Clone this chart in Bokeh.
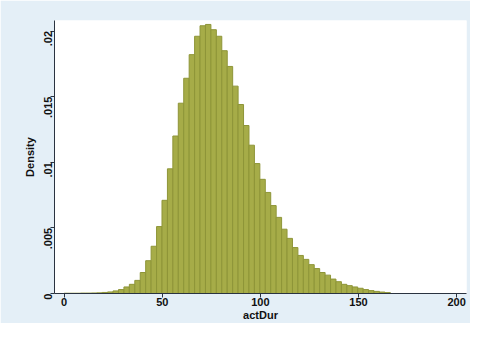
from bokeh.plotting import figure
from bokeh.models import FixedTicker, CustomJSTickFormatter, Range1d, ColumnDataSource
from bokeh.embed import file_html
from bokeh.resources import INLINE
import math

# Histogram of actDur: 60 bins starting at 0
bin_start = 0.0
bin_width = 2.77
density = [
    0.00002, 0.00002, 0.00002, 0.00003, 0.00003, 0.00004, 0.00005, 0.00008, 0.00012, 0.0002,
    0.0003, 0.0005, 0.0007, 0.0010, 0.0016, 0.0025, 0.0036, 0.0051, 0.0071, 0.0095,
    0.0120, 0.0145, 0.0164, 0.0182, 0.0196, 0.0204, 0.0205, 0.0201, 0.0196, 0.0185,
    0.0173, 0.0158, 0.0144, 0.0128, 0.0113, 0.0099, 0.0087, 0.0077, 0.0067, 0.0058,
    0.0049, 0.0042, 0.0035, 0.0029, 0.0026, 0.0022, 0.0019, 0.0016, 0.0014, 0.0011,
    0.0009, 0.0007, 0.0006, 0.0005, 0.0004, 0.0003, 0.00022, 0.00016, 0.00011, 0.00007,
]
x_ticks = [0, 50, 100, 150, 200]
y_ticks = [0, 0.005, 0.01, 0.015, 0.02]
x_title = "actDur"
y_title = "Density"

lefts = [bin_start + i * bin_width for i in range(len(density))]
rights = [l + bin_width for l in lefts]
src = ColumnDataSource(dict(left=lefts, right=rights, top=density, bottom=[0] * len(density)))

p = figure(width=470, height=323, output_backend="svg", toolbar_location=None,
           x_range=Range1d(-4.9, 205), y_range=Range1d(0, 0.0208),
           min_border_left=54, min_border_right=4, min_border_top=20, min_border_bottom=28)
p.border_fill_color = "#e4eff7"
p.background_fill_color = "white"
p.outline_line_color = None
p.grid.visible = False

p.quad(left="left", right="right", top="top", bottom="bottom", source=src,
       fill_color="#a6ac48", line_color="#8e9538", line_width=1)

font = "Liberation Sans"
p.xaxis.ticker = FixedTicker(ticks=x_ticks)
p.yaxis.ticker = FixedTicker(ticks=y_ticks)
p.yaxis.formatter = CustomJSTickFormatter(code="""
if (tick == 0) return '0';
return tick.toFixed(3).replace(/^0/, '').replace(/0+$/, '');
""")
p.xaxis.axis_label = x_title
p.yaxis.axis_label = y_title
for ax in (p.xaxis, p.yaxis):
    ax.axis_line_color = "#2a3340"
    ax.major_tick_line_color = "#2a3340"
    ax.minor_tick_line_color = None
    ax.major_tick_out = 4
    ax.major_tick_in = 0
    ax.major_label_text_font = font
    ax.major_label_text_font_size = "11px"
    ax.major_label_text_font_style = "bold"
    ax.major_label_text_color = "#111111"
    ax.axis_label_text_font = font
    ax.axis_label_text_font_size = "11px"
    ax.axis_label_text_font_style = "bold"
    ax.axis_label_text_color = "#111111"
p.xaxis.major_label_standoff = 0
p.xaxis.axis_label_standoff = 0
p.yaxis.major_label_standoff = 3
p.yaxis.axis_label_standoff = 1
p.yaxis.major_label_orientation = math.pi / 2

open("out.html", "w").write(file_html(p, INLINE))
